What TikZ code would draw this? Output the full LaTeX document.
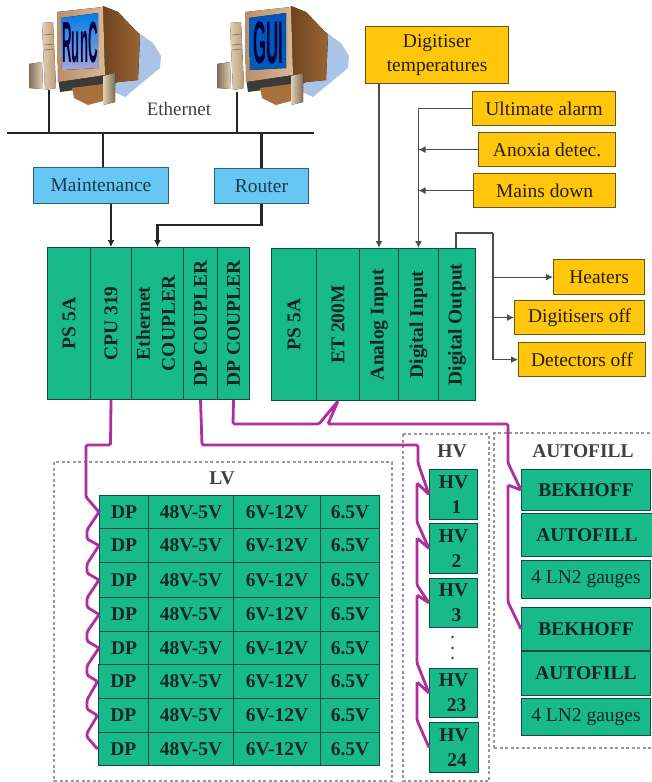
\documentclass[tikz,border=0pt]{standalone}
\usepackage{fontspec}
\setmainfont{Liberation Serif}
\newfontfamily\scrfont{Liberation Sans}
\usetikzlibrary{arrows.meta,calc}
\definecolor{grn}{HTML}{18BA8C}
\definecolor{grnb}{HTML}{0D4F3C}
\definecolor{gld}{HTML}{FFC60B}
\definecolor{gldb}{HTML}{6A5518}
\definecolor{blu}{HTML}{66C7F5}
\definecolor{blub}{HTML}{2C5F78}
\definecolor{pur}{HTML}{AE2F9E}
\definecolor{txt}{HTML}{12261F}
\definecolor{dash}{HTML}{9A95A5}
\definecolor{pcshadow}{HTML}{A9C4E6}
\definecolor{bezA}{HTML}{B98F68}
\definecolor{bezB}{HTML}{D9B896}
\definecolor{sideA}{HTML}{5E3818}
\definecolor{sideB}{HTML}{9A6433}
\definecolor{towA}{HTML}{E2CFB4}
\definecolor{towB}{HTML}{B89B78}
\definecolor{baseC}{HTML}{A8703C}
\definecolor{darkC}{HTML}{3A3A38}
\tikzset{
  x=1pt,y=-1pt,
  base/.style={rectangle,inner sep=0pt,anchor=north west,align=center,font=\fontsize{19.5}{24}\selectfont},
  gbox/.style={base,draw=grnb,line width=1pt,fill=grn,text=txt,font=\fontsize{19.5}{24}\selectfont\bfseries},
  gboxr/.style={base,draw=grnb,line width=1pt,fill=grn,text=txt},
  gold/.style={base,draw=gldb,line width=1.2pt,fill=gld,text=black!85!gld},
  sky/.style={base,draw=blub,line width=1pt,fill=blu,text=blub!60!black},
  bus/.style={line width=2.6pt,draw=black!85},
  wire/.style={line width=1.2pt,draw=black!70},
  wirearrow/.style={wire,-{Latex[length=7pt,width=7pt]}},
  busarrow/.style={line width=2.4pt,draw=black!85,-{Latex[length=7pt,width=7pt]}},
  purl/.style={line width=2.8pt,draw=pur,rounded corners=1.5pt},
  frame/.style={draw=dash,line width=1.1pt,dash pattern=on 3pt off 2.5pt},
  title/.style={inner sep=0pt,font=\fontsize{19.5}{24}\selectfont\bfseries,text=black!75},
}
\newcommand{\pcshape}[3]{%
 \begin{scope}[xshift=#1pt]
  \fill[pcshadow] (118,18)--(153,43)--(161,56)--(160,68)--(125,97)--(110,90)--cycle;
  \fill[left color=sideA,right color=sideB] (103,6)--(118,12)--(140,35)--(138,80)--(118,82)--(105,88)--(90,70)--cycle;
  \fill[darkC] (58,78)--(103,72)--(105,86)--(60,92)--cycle;
  \fill[baseC] (72,88)--(103,84)--(103,101)--(88,105)--(74,98)--cycle;
  \fill[left color=bezA,right color=bezB] (57,12)--(103,7)--(105,75)--(58,82)--cycle;
  \fill[left color=towA,right color=towB] (42,23)--(53,22)--(56,88)--(45,90)--cycle;
  \draw[towB!70!black,line width=.6pt] (44,35)--(53,34) (44,45)--(54,44) (44,50)--(54,49);
  \fill[left color=towB!70!black,right color=towA] (29,64)--(42,62)--(43,89)--(29,88)--cycle;
  \fill[left color=towA,right color=towB!70!black] (103,76)--(115,73)--(115,102)--(103,105)--cycle;
  \fill[#2] (61,18)--(98,13)--(98,68)--(62,70)--cycle;
  \node[inner sep=0pt,text=blue!25!black] (scr#1) at (80,43) {#3};
 \end{scope}}
\begin{document}
\begin{tikzpicture}
\useasboundingbox (0,0) rectangle (652,782);
\fill[white] (0,0) rectangle (652,782);

% computers
\pcshape{0}{top color=blue!45!cyan!90!black,bottom color=gray!60!blue!50!white}{\scalebox{.66}[2.9]{\scrfont\fontsize{20}{20}\selectfont\bfseries RunC}}
\pcshape{188}{top color=cyan!45!blue!75!black,bottom color=cyan!50!blue!70!black}{\scalebox{.84}[3]{\scrfont\fontsize{20}{20}\selectfont\bfseries GUI}}
\coordinate (runc) at (49,90);
\coordinate (gui) at (237,92);
\coordinate (busL) at (7,133);
\coordinate (busR) at (314,133);
\node[inner sep=0pt,font=\fontsize{19}{24}\selectfont,text=black!75] (eth) at (179,109) {Ethernet};

% blue boxes
\node[sky,minimum width=135pt,minimum height=36pt] (maint) at (33,167) {Maintenance};
\node[sky,minimum width=94pt,minimum height=35pt] (router) at (214,168) {Router};

% crate 1
\node[gbox,minimum width=43pt,minimum height=152pt] (ps1) at (47,247) {\rotatebox{90}{PS 5A}};
\node[gbox,minimum width=41pt,minimum height=152pt] (cpu) at (90,247) {\rotatebox{90}{CPU 319}};
\node[gbox,minimum width=52pt,minimum height=152pt] (ec) at (131,247) {\rotatebox{90}{\begin{tabular}{@{}c@{}}Ethernet\\[1pt]COUPLER\end{tabular}}};
\node[gbox,minimum width=34pt,minimum height=152pt] (dp1c) at (183,247) {\rotatebox{90}{DP COUPLER}};
\node[gbox,minimum width=32pt,minimum height=152pt] (dp2c) at (217,247) {\rotatebox{90}{DP COUPLER}};
% crate 2
\node[gbox,minimum width=45pt,minimum height=152pt] (ps2) at (271,248) {\rotatebox{90}{PS 5A}};
\node[gbox,minimum width=43pt,minimum height=152pt] (et) at (316,248) {\rotatebox{90}{ET 200M}};
\node[gbox,minimum width=39pt,minimum height=152pt] (ana) at (359,248) {\rotatebox{90}{Analog Input}};
\node[gbox,minimum width=40pt,minimum height=152pt] (dig) at (398,248) {\rotatebox{90}{Digital Input}};
\node[gbox,minimum width=37pt,minimum height=152pt] (dout) at (438,248) {\rotatebox{90}{Digital Output}};

% gold boxes
\node[gold,minimum width=143pt,minimum height=57pt] (temp) at (365,26) {Digitiser\\temperatures};
\node[gold,minimum width=143pt,minimum height=34pt] (ult) at (472,91) {Ultimate alarm};
\node[gold,minimum width=137pt,minimum height=34pt] (anox) at (478,132) {Anoxia detec.};
\node[gold,minimum width=142pt,minimum height=34pt] (mains) at (473,173) {Mains down};
\node[gold,minimum width=91pt,minimum height=35pt] (heat) at (553,259) {Heaters};
\node[gold,minimum width=130pt,minimum height=34pt] (dgoff) at (514,300) {Digitisers off};
\node[gold,minimum width=127pt,minimum height=34pt] (detoff) at (518,342) {Detectors off};

% frames
\coordinate (lvA) at (54,462);
\coordinate (lvB) at (392,781);
\coordinate (hvA) at (403,434);
\coordinate (hvB) at (489,781);
\coordinate (afA) at (494,433);
\coordinate (afB) at (652,748);
\draw[frame] (lvA) rectangle (lvB);
\draw[frame] (hvA) rectangle (hvB);
\draw[frame] (afB -| afA) -- (afA) -- (afA -| afB);
\draw[frame] (afB -| afA) -- (afB);
\node[title] (lvt) at (222,478) {LV};
\node[title] (hvt) at (452,451) {HV};
\node[title] (aft) at (583,451) {AUTOFILL};

% LV table
\foreach \i/\t/\h/\l in {1/495/33/99,2/528/34/99,3/562/35/99,4/597/34/99,5/631/33/99,6/664/34/97.5,7/698/34/97.5,8/732/33/97.5}{
  \pgfmathsetmacro{\wa}{148-\l}
  \node[gbox,minimum width=\wa pt,minimum height=\h pt] (dp\i) at (\l,\t) {DP};
  \node[gbox,minimum width=85pt,minimum height=\h pt] (a\i) at (148,\t) {48V-5V};
  \node[gbox,minimum width=87pt,minimum height=\h pt] (b\i) at (233,\t) {6V-12V};
  \node[gbox,minimum width=59pt,minimum height=\h pt] (c\i) at (320,\t) {6.5V};
}

% HV
\node[gbox,minimum width=48pt,minimum height=50pt] (hv1) at (429,469) {HV\\[1pt]\hspace*{6pt}1};
\node[gbox,minimum width=48pt,minimum height=50pt] (hv2) at (429,523) {HV\\[1pt]\hspace*{6pt}2};
\node[gbox,minimum width=48pt,minimum height=49pt] (hv3) at (429,578) {HV\\[1pt]\hspace*{6pt}3};
\node[gbox,minimum width=48pt,minimum height=49pt] (hv23) at (429,668) {HV\\[1pt]\hspace*{6pt}23};
\node[gbox,minimum width=49pt,minimum height=50pt] (hv24) at (429,722) {HV\\[1pt]\hspace*{6pt}24};
\fill[black!75] (452.5,637) circle (1.4pt) (452.5,648) circle (1.4pt) (452.5,658) circle (1.4pt);

% Autofill
\node[gbox,minimum width=129pt,minimum height=41pt] (bek1) at (521,469) {BEKHOFF};
\node[gbox,minimum width=131pt,minimum height=43pt] (af1) at (521,513) {AUTOFILL};
\node[gboxr,minimum width=129pt,minimum height=38pt] (ln1) at (521,560) {4 LN2 gauges};
\node[gbox,minimum width=129pt,minimum height=43pt] (bek2) at (521,607) {BEKHOFF};
\node[gbox,minimum width=129pt,minimum height=44pt] (af2) at (521,651) {AUTOFILL};
\node[gboxr,minimum width=129pt,minimum height=37pt] (ln2) at (521,698) {4 LN2 gauges};

% network
\draw[bus] (busL) -- (busR);
\draw[bus] (runc) -- (runc |- busL);
\draw[bus] (gui) -- (gui |- busL);
\draw[bus] (maint.north -| 103,0) -- (103,133);
\draw[bus] (router.north) -- (router.north |- busL);
\draw[busarrow] (cpu.north |- maint.south) -- (cpu.north);
\draw[busarrow] (router.south) |- (ec.north |- 0,225) -- (ec.north);

% side wires
\draw[wirearrow] (temp.south -| ana.north) -- (ana.north);
\draw[wirearrow] (ult.west) -| (dig.north);
\draw[wirearrow] (anox.west) -- (anox.west -| dig.north);
\draw[wirearrow] (mains.west) -- (mains.west -| dig.north);
\coordinate (doTop) at (456,233);
\coordinate (doRight) at (493,233);
\draw[wire] (doTop |- dout.north) -- (doTop) -- (doRight);
\draw[wirearrow] (doRight) |- (detoff.west);
\draw[wirearrow] (doRight |- heat.west) -- (heat.west);
\draw[wirearrow] (doRight |- dgoff.west) -- (dgoff.west);

% purple links
\draw[purl] (cpu.south) -- (110.5,445) -- (86,445) -- (86,497) -- (dp1.west)
  -- (87,530) -- (87,539) -- (dp2.west) -- (87,564) -- (87,573) -- (dp3.west)
  -- (87,598) -- (87,607) -- (dp4.west) -- (87,632) -- (87,641) -- (dp5.west)
  -- (87,666) -- (87,675) -- (dp6.west) -- (87,700) -- (87,709) -- (dp7.west)
  -- (87,733) -- (87,737) -- (dp8.west);
\draw[purl] (dp1c.south) -- (202,445) -- (418,445) -- (418,463) -- (hv1.west)
  -- (417,483) -- (417,522) -- (hv2.west) -- (417,538) -- (417,585) -- (hv3.west)
  -- (417,595) -- (417,663) -- (hv23.west) -- (417,682) -- (417,720) -- (hv24.west);
\draw[purl] (dp2c.south) -- (233,424) -- (319,424) -- (et.south) -- (328,424) -- (508,424) -- (508,463)
  -- (bek1.west) -- (508,485) -- (508,602) -- (bek2.west);
\end{tikzpicture}
\end{document}
